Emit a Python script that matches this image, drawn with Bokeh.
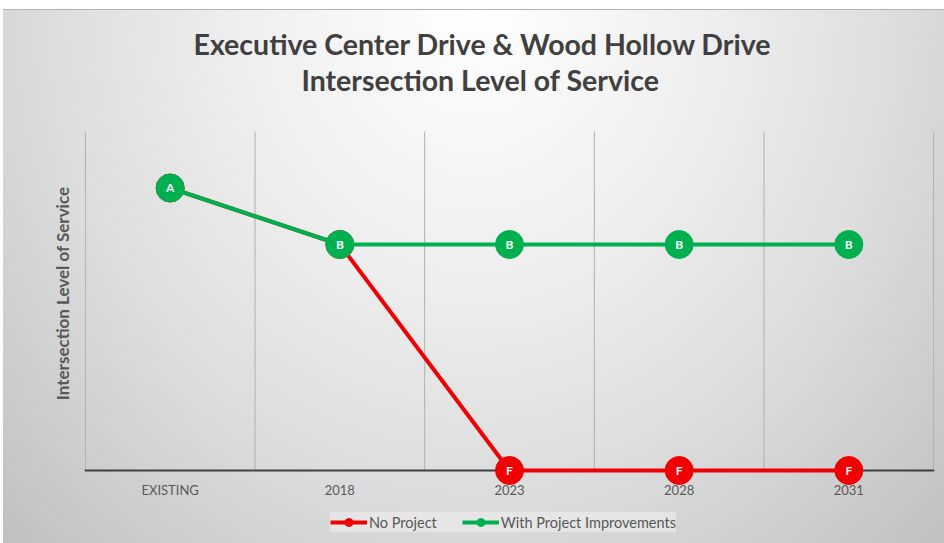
from bokeh.plotting import figure
from bokeh.models import ColumnDataSource, Range1d, FixedTicker, Title, Legend, LegendItem
from bokeh.core.properties import value
from bokeh.embed import file_html
from bokeh.resources import INLINE

CATEGORIES = ["EXISTING", "2018", "2023", "2028", "2031"]
LOS_LEVELS = ["F", "E", "D", "C", "B", "A"]
NO_PROJECT = ["A", "B", "F", "F", "F"]
WITH_PROJECT = ["A", "B", "B", "B", "B"]
SERIES_NAMES = ["No Project", "With Project Improvements"]
TITLE_LINES = ["Executive Center Drive & Wood Hollow Drive", "Intersection Level of Service"]
Y_LABEL = "Intersection  Level of Service"

RED = "#f00000"
GREEN = "#00b050"
FONT = "Lato"

xs = list(range(len(CATEGORIES)))


def to_y(letters):
    return [LOS_LEVELS.index(c) for c in letters]


p = figure(width=944, height=543, output_backend="svg", toolbar_location=None, title=None,
           x_range=Range1d(-0.505, len(CATEGORIES) - 0.495),
           y_range=Range1d(-1.239, 6.584),
           min_border_left=84, min_border_right=10, min_border_top=98, min_border_bottom=3)
p.styles = {
    "background": (
        "linear-gradient(#b4b4b4, #b4b4b4) 3px 9px / 100% 1px no-repeat, "
        "radial-gradient(ellipse farthest-corner at 50% 0%, #ffffff 0%, #ededed 38%, "
        "#dcdcdc 65%, #c0c0c0 100%) 3px 9px / calc(100% - 3px) calc(100% - 9px) no-repeat, "
        "#ffffff"
    )
}
p.border_fill_color = None
p.background_fill_color = None
p.outline_line_color = None
p.xgrid.visible = False
p.ygrid.visible = False

# x axis drawn at LOS "F" level, beneath the series
p.xaxis.fixed_location = 0
p.xaxis.level = "underlay"
p.xaxis.ticker = FixedTicker(ticks=xs)
p.xaxis.major_label_overrides = {i: c for i, c in enumerate(CATEGORIES)}
p.xaxis.axis_line_color = "#404040"
p.xaxis.axis_line_width = 2
p.xaxis.major_tick_line_color = None
p.xaxis.minor_tick_line_color = None
p.xaxis.major_tick_out = 0
p.xaxis.major_tick_in = 0
p.xaxis.major_label_standoff = 12
p.xaxis.major_label_text_font = FONT
p.xaxis.major_label_text_font_size = "13px"
p.xaxis.major_label_text_color = "#595959"

p.yaxis.visible = False

# vertical category separators, drawn up to the top LOS level
bounds = [i - 0.5 for i in range(len(CATEGORIES) + 1)]
p.segment(x0=bounds, x1=bounds, y0=[0] * len(bounds), y1=[len(LOS_LEVELS)] * len(bounds),
          line_color="#b0b0b0", line_width=1, level="underlay")

# titles (added nearest-first)
t2 = Title(text=TITLE_LINES[1], align="left", offset=217, text_font=FONT, text_font_size="28.5px",
           text_font_style="bold", text_color="#404040", standoff=4)
t1 = Title(text=TITLE_LINES[0], align="left", offset=109, text_font=FONT, text_font_size="28.5px",
           text_font_style="bold", text_color="#404040", standoff=-4)
p.add_layout(t2, "above")
p.add_layout(t1, "above")

# vertical axis title
ylab = Title(text=Y_LABEL, align="right", offset=84, text_font=FONT, text_font_size="17px",
             text_font_style="bold", text_color="#595959", standoff=24)
p.add_layout(ylab, "left")

series = [(NO_PROJECT, RED), (WITH_PROJECT, GREEN)]
items = []
for (letters, color), name in zip(series, SERIES_NAMES):
    src = ColumnDataSource(dict(x=xs, y=to_y(letters), t=letters))
    ln = p.line("x", "y", source=src, line_color=color, line_width=4)
    pts = p.scatter("x", "y", source=src, size=28, fill_color=color, line_color=color)
    p.text("x", "y", text="t", source=src, text_color="white", text_align="center",
           text_baseline="middle", text_font=value(FONT), text_font_style="bold",
           text_font_size="12px")
    items.append(LegendItem(label=name, renderers=[ln, pts]))

legend = Legend(items=items, orientation="horizontal", location=(246, 8),
                glyph_width=37, glyph_height=20, label_standoff=2, spacing=25,
                padding=5, margin=0, background_fill_color="#eeeeee", background_fill_alpha=0.6,
                border_line_color=None, label_text_font=FONT, label_text_font_size="14.5px",
                label_text_color="#595959")
p.add_layout(legend, "center")

open("out.html", "w").write(file_html(p, INLINE))
